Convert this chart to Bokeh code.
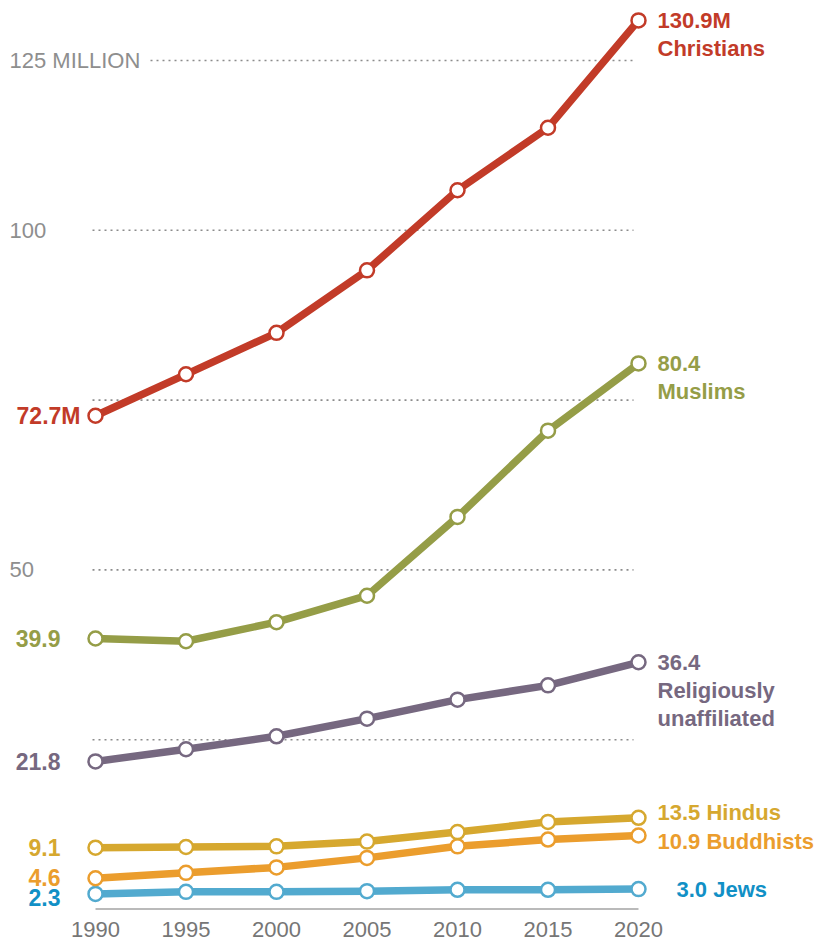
from bokeh.plotting import figure
from bokeh.models import ColumnDataSource, Range1d, FixedTicker
from bokeh.core.properties import value
from bokeh.embed import file_html
from bokeh.resources import INLINE

# ---------------- data ----------------
years = [1990, 1995, 2000, 2005, 2010, 2015, 2020]
christians = [72.7, 78.8, 84.9, 94.1, 105.9, 115.1, 130.9]
muslims = [39.9, 39.5, 42.3, 46.2, 57.8, 70.5, 80.4]
unaffiliated = [21.8, 23.6, 25.5, 28.1, 30.9, 33.0, 36.4]
hindus = [9.1, 9.2, 9.3, 10.0, 11.4, 12.9, 13.5]
buddhists = [4.6, 5.4, 6.2, 7.6, 9.3, 10.3, 10.9]
jews = [2.3, 2.6, 2.6, 2.7, 2.9, 2.9, 3.0]

series_names = ["Christians", "Muslims", "Religiously\nunaffiliated", "Hindus", "Buddhists", "Jews"]
start_labels = ["72.7M", "39.9", "21.8", "9.1", "4.6", "2.3"]
end_labels = ["130.9M", "80.4", "36.4", "13.5", "10.9", "3.0"]

grid_values = [125, 100, 75, 50, 25]
y_tick_labels = ["125 MILLION", "100", "", "50", ""]

# ---------------- styling ----------------
FONT = "Liberation Sans"
line_colors = ["#c23b28", "#959d47", "#766880", "#d6a82f", "#eb9d2d", "#52aacf"]
text_colors = ["#c23b28", "#959d47", "#766880", "#d6a82f", "#eb9d2d", "#1190c6"]
start_dy = [0, 0, 0, 0, -1, 4]
all_series = [christians, muslims, unaffiliated, hindus, buddhists, jews]

W, H = 815, 946
frame_h = 909
BOTTOM = H - frame_h
px_per_year = 18.1
left_px = 95
px_per_unit = (frame_h - 60) / 125.0

x_start = years[0] - left_px / px_per_year
x_end = x_start + W / px_per_year
y_end = frame_h / px_per_unit

p = figure(width=W, height=H, x_range=Range1d(x_start, x_end), y_range=Range1d(0, y_end),
           output_backend="svg", toolbar_location=None, y_axis_location=None,
           min_border_left=0, min_border_right=0, min_border_top=0, min_border_bottom=BOTTOM)
p.xgrid.visible = False
p.ygrid.visible = False
p.outline_line_color = None
p.background_fill_color = "white"
p.border_fill_color = "white"

ax = p.xaxis[0]
ax.ticker = FixedTicker(ticks=years)
ax.axis_line_color = None
ax.major_tick_line_color = None
ax.minor_tick_line_color = None
ax.major_label_standoff = 6
ax.major_label_text_font = FONT
ax.major_label_text_font_size = "22px"
ax.major_label_text_color = "#767676"

# gridlines (dotted)
gx0 = [years[0] - 3 / px_per_year if lab != "125 MILLION" else years[0] + 55 / px_per_year
       for lab in y_tick_labels]
gx1 = [years[-1] - 5 / px_per_year for _ in grid_values]
p.segment(x0=gx0, y0=grid_values, x1=gx1, y1=grid_values, line_color="#8c8c8c",
          line_width=1.6, line_dash="2 4")

# y labels
p.text(x=[years[0]] * len(grid_values), y=grid_values, text=y_tick_labels,
       x_offset=-86, text_align="left", text_baseline="middle",
       text_font=value(FONT), text_font_size="22px", text_color="#8e8e8e")

# baseline
p.segment(x0=[years[0]], y0=[0], x1=[years[-1]], y1=[0], line_color="#777777", line_width=2)

# series
for vals, lc in zip(all_series[::-1], line_colors[::-1]):
    src = ColumnDataSource(dict(x=years, y=vals))
    p.line("x", "y", source=src, line_color=lc, line_width=7.5, line_join="round")
for vals, lc in zip(all_series[::-1], line_colors[::-1]):
    src = ColumnDataSource(dict(x=years, y=vals))
    p.scatter("x", "y", source=src, size=14, marker="circle", fill_color="white",
              line_color=lc, line_width=2.5)

# start labels (right aligned, with hanging M)
for lab, vals, tc, dy in zip(start_labels, all_series, text_colors, start_dy):
    off = -15 if lab.endswith("M") else -35
    p.text(x=[years[0]], y=[vals[0]], text=[lab], x_offset=off, y_offset=dy, text_align="right",
           text_baseline="middle", text_font=value(FONT), text_font_style="bold",
           text_font_size="23px", text_color=tc)

# end labels
def end_text(x, y, t, tc, xo, yo):
    p.text(x=[x], y=[y], text=[t], x_offset=xo, y_offset=yo, text_align="left",
           text_baseline="middle", text_font=value(FONT), text_font_style="bold",
           text_font_size="22px", text_color=tc)

# Christians, Muslims, unaffiliated: number then name lines below
for i in range(3):
    end_text(years[-1], all_series[i][-1], end_labels[i], text_colors[i], 19, 0)
    for j, part in enumerate(series_names[i].split("\n")):
        end_text(years[-1], all_series[i][-1], part, text_colors[i], 19, 28 * (j + 1))
# Hindus, Buddhists, Jews: one line
end_text(years[-1], hindus[-1], end_labels[3] + " " + series_names[3], text_colors[3], 19, -5)
end_text(years[-1], buddhists[-1], end_labels[4] + " " + series_names[4], text_colors[4], 19, 6)
end_text(years[-1], jews[-1], end_labels[5] + " " + series_names[5], text_colors[5], 38, 0)

open("out.html", "w").write(file_html(p, INLINE))
